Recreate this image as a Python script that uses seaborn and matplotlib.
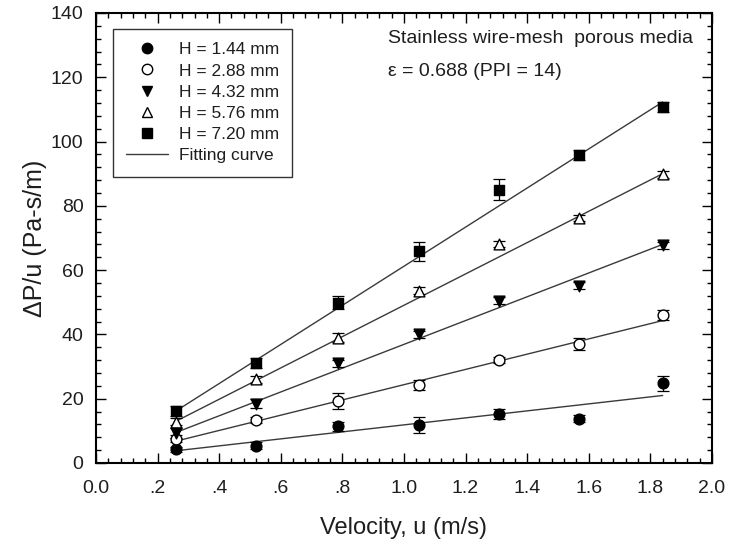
import numpy as np
import pandas as pd
import matplotlib
matplotlib.use("Agg")
import matplotlib.pyplot as plt
from matplotlib.lines import Line2D
from matplotlib.ticker import MultipleLocator
import seaborn as sns

# ---- data ----
velocity = [0.26, 0.52, 0.785, 1.05, 1.31, 1.57, 1.84]
heights = ["H = 1.44 mm", "H = 2.88 mm", "H = 4.32 mm", "H = 5.76 mm", "H = 7.20 mm"]
dp_144 = [4.3, 5.4, 11.4, 11.8, 15.2, 13.8, 24.8]
dp_288 = [7.6, 13.3, 19.3, 24.3, 32.0, 37.0, 46.0]
dp_432 = [9.3, 18.5, 31.0, 40.0, 50.5, 55.2, 67.7]
dp_576 = [12.9, 26.0, 39.0, 53.6, 68.2, 76.2, 89.8]
dp_720 = [16.1, 31.2, 49.9, 65.8, 85.0, 95.9, 110.8]
err_144 = [0.8, 1.0, 1.5, 2.5, 1.5, 1.0, 2.3]
err_288 = [1.0, 1.0, 2.5, 1.5, 1.0, 2.0, 1.5]
err_432 = [1.5, 1.5, 1.0, 1.0, 1.0, 1.0, 1.0]
err_576 = [1.0, 1.0, 1.5, 1.0, 1.0, 1.0, 1.0]
err_720 = [1.5, 1.5, 2.0, 3.0, 3.2, 1.5, 1.5]
# fitting curve endpoints (at first and last velocity)
fit_u = [0.26, 1.84]
fit_144 = [3.8, 21.0]
fit_288 = [6.8, 44.3]
fit_432 = [9.5, 68.0]
fit_576 = [13.0, 90.0]
fit_720 = [16.2, 112.3]
xtick_vals = [0.0, 0.2, 0.4, 0.6, 0.8, 1.0, 1.2, 1.4, 1.6, 1.8, 2.0]
xtick_labels = ["0.0", ".2", ".4", ".6", ".8", "1.0", "1.2", "1.4", "1.6", "1.8", "2.0"]

dps = [dp_144, dp_288, dp_432, dp_576, dp_720]
errs = [err_144, err_288, err_432, err_576, err_720]
fits = [fit_144, fit_288, fit_432, fit_576, fit_720]
markers = ["o", "o", "v", "^", "s"]
faces = ["black", "white", "black", "white", "black"]

sns.set_theme(style="ticks")
plt.rcParams["font.family"] = ["Liberation Sans", "DejaVu Sans"]

fig = plt.figure(figsize=(7.35, 5.47), dpi=100)
ax = fig.add_axes([0.1306, 0.1536, 0.838, 0.8227])

line_color = "#3a3a3a"
text_color = "#1e1e1e"
fit_rows = []
pt_rows = []
for h, dp, fit in zip(heights, dps, fits):
    for u, v in zip(fit_u, fit):
        fit_rows.append({"u": u, "v": v, "H": h})
    for u, v in zip(velocity, dp):
        pt_rows.append({"u": u, "v": v, "H": h})
fit_df = pd.DataFrame(fit_rows)
pt_df = pd.DataFrame(pt_rows)

sns.lineplot(data=fit_df, x="u", y="v", units="H", estimator=None,
             color=line_color, lw=1.0, ax=ax, legend=False, zorder=2)

for h, dp, er, m, fc in zip(heights, dps, errs, markers, faces):
    ax.errorbar(velocity, dp, yerr=er, fmt="none", ecolor="black",
                elinewidth=0.9, capsize=4, capthick=0.9, zorder=3)
    sub = pt_df[pt_df["H"] == h]
    sns.scatterplot(data=sub, x="u", y="v", marker=m, s=60, color=fc,
                    edgecolor="black", linewidth=1.0, ax=ax, legend=False, zorder=4)

ax.set_xlim(0, 2.0)
ax.set_ylim(0, 140)
ax.set_xticks(xtick_vals)
ax.set_xticklabels(xtick_labels)
ax.set_yticks(np.arange(0, 141, 20))
ax.xaxis.set_minor_locator(MultipleLocator(0.04))
ax.yaxis.set_minor_locator(MultipleLocator(4))
ax.tick_params(which="both", direction="in", top=True, right=True,
               labelsize=14, colors="black", labelcolor=text_color, width=1.0)
ax.tick_params(which="major", length=7)
ax.tick_params(which="minor", length=3.5)
ax.tick_params(axis="x", which="major", pad=12)
ax.tick_params(axis="y", which="major", pad=9)
for s in ax.spines.values():
    s.set_linewidth(1.5)
    s.set_color("black")

ax.set_xlabel("Velocity, u (m/s)", fontsize=17, labelpad=15, color=text_color)
ax.set_ylabel("\u0394P/u (Pa-s/m)", fontsize=18, labelpad=3, color=text_color)

ax.text(0.474, 0.944, "Stainless wire-mesh  porous media", transform=ax.transAxes,
        fontsize=14, va="center", ha="left", color=text_color)
ax.text(0.474, 0.869, "\u03b5 = 0.688 (PPI = 14)", transform=ax.transAxes,
        fontsize=14, va="center", ha="left", color=text_color)

handles = []
for h, m, fc in zip(heights, markers, faces):
    handles.append(Line2D([], [], ls="none", marker=m, markersize=7.5,
                          markerfacecolor=fc, markeredgecolor="black", label=h))
handles.append(Line2D([], [], color=line_color, lw=1.0, label="Fitting curve"))
leg = ax.legend(handles=handles, loc="upper left", bbox_to_anchor=(0.0276, 0.964),
                fontsize=12.5, frameon=True, fancybox=False, edgecolor="black",
                handlelength=2.4, handletextpad=0.65, labelspacing=0.35,
                borderpad=0.75, borderaxespad=0)
leg.get_frame().set_linewidth(1.0)
for t in leg.get_texts():
    t.set_color(text_color)

fig.savefig("out.png", dpi=100)
